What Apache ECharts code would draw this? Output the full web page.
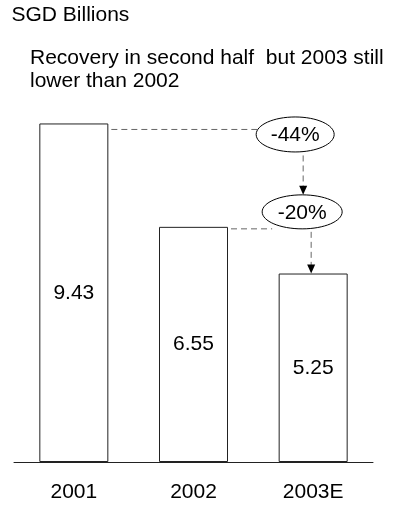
<!DOCTYPE html>
<html>
<head>
<meta charset="utf-8">
<script src="https://cdn.jsdelivr.net/npm/echarts@6/dist/echarts.min.js"></script>
<style>
html,body{margin:0;padding:0;background:#fff;}
#c{width:393px;height:508px;}
</style>
</head>
<body>
<div id="c"></div>
<script>
const categories = ['2001', '2002', '2003E'];
const values = [9.43, 6.55, 5.25];
const changeLabels = ['-44%', '-20%'];
const titleText = 'SGD Billions';
const subtitleText = 'Recovery in second half  but 2003 still\nlower than 2002';

const FONT = '"Liberation Sans", Arial, sans-serif';
const FS = 21;
const BAR_W = 69;
const chart = echarts.init(document.getElementById('c'), null, {renderer: 'canvas'});

const option = {
  animation: false,
  backgroundColor: '#fff',
  title: [
    {text: titleText, left: 11.5, top: 5, padding: 0, textStyle: {fontFamily: FONT, fontSize: FS, fontWeight: 'normal', color: '#000', lineHeight: 21}},
    {text: subtitleText, left: 30, top: 46.5, padding: 0, textStyle: {fontFamily: FONT, fontSize: FS, fontWeight: 'normal', color: '#000', lineHeight: 23}}
  ],
  grid: {left: 14, right: 20, top: 103, bottom: 46},
  xAxis: {
    type: 'category',
    data: categories,
    axisLine: {lineStyle: {color: '#222', width: 1}},
    axisTick: {show: false},
    axisLabel: {fontFamily: FONT, fontSize: FS, color: '#000', margin: 20}
  },
  yAxis: {type: 'value', min: 0, max: 10, show: false, splitLine: {show: false}},
  series: [{
    type: 'bar',
    data: values,
    barWidth: BAR_W,
    itemStyle: {color: '#fff', borderColor: '#222', borderWidth: 1},
    label: {show: true, position: 'inside', fontFamily: FONT, fontSize: FS, color: '#000',
      formatter: p => p.value.toFixed(2)}
  }]
};
chart.setOption(option);

function px(i, v) { return chart.convertToPixel({gridIndex: 0}, [i, v]); }

const dash = {stroke: '#666', lineWidth: 1, lineDash: [6, 4]};
const g = [];
function hline(x1, x2, y) { g.push({type: 'line', shape: {x1, y1: y, x2, y2: y}, style: dash, z: 5}); }
function varrow(x, y1, y2) {
  g.push({type: 'line', shape: {x1: x, y1, x2: x, y2: y2 - 8}, style: dash, z: 5});
  g.push({type: 'polygon', shape: {points: [[x - 4, y2 - 9], [x + 4, y2 - 9], [x, y2]]}, style: {fill: '#000'}, z: 6});
}
function bubble(cx, cy, rx, ry, text) {
  g.push({type: 'ellipse', shape: {cx, cy, rx, ry}, style: {fill: '#fff', stroke: '#000', lineWidth: 1}, z: 7});
  g.push({type: 'text', x: cx, y: cy + 1, style: {text, fill: '#000', font: FS + 'px ' + FONT, textAlign: 'center', textVerticalAlign: 'middle'}, z: 8});
}

const p0 = px(0, values[0]);
const p1 = px(1, values[1]);
const p2 = px(2, values[2]);
const c1 = [p2[0] - 18, p0[1] + 11];
const c2 = [p2[0] - 11, p1[1] - 15];

hline(p0[0] + BAR_W / 2 + 3, c1[0] - 38, p0[1] + 6);
varrow(c1[0] + 8, c1[1] + 21, c2[1] - 17);
hline(p1[0] + BAR_W / 2 + 3, c2[0] - 30, p1[1] + 2);
varrow(c2[0] + 9, c2[1] + 20, p2[1]);
bubble(c1[0], c1[1], 39, 17.5, changeLabels[0]);
bubble(c2[0], c2[1], 40, 17, changeLabels[1]);

chart.setOption({graphic: g});
</script>
</body>
</html>
